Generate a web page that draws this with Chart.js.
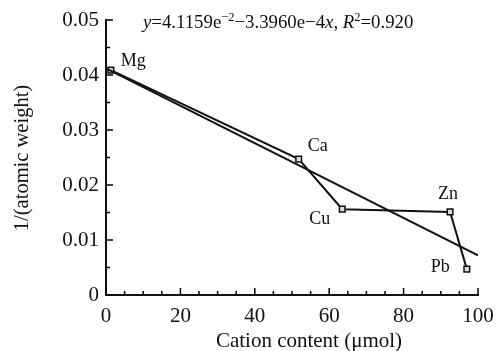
<!DOCTYPE html>
<html>
<head>
<meta charset="utf-8">
<script src="https://cdn.jsdelivr.net/npm/chart.js@4.4.1/dist/chart.umd.min.js"></script>
<style>
  html, body { margin: 0; padding: 0; background: #fff; }
  #wrap { width: 497px; height: 351px; position: relative; }
</style>
</head>
<body>
<div id="wrap"><canvas id="chart"></canvas></div>
<script>
// values
const metals = ['Mg', 'Ca', 'Cu', 'Zn', 'Pb'];
const cationContent = [1.3, 51.8, 63.5, 92.5, 97.0];
const invAtomicWeight = [0.0409, 0.0247, 0.0156, 0.0151, 0.0047];

// regression line end points, y = 4.1159e-2 - 3.3960e-4 x
const fitX = [0, 100];
const fitY = [0.0412, 0.0072];

const xTicks = [0, 20, 40, 60, 80, 100];
const yTicks = [0, 0.01, 0.02, 0.03, 0.04, 0.05];

const xTitle = 'Cation content (\u03bcmol)';
const yTitle = '1/(atomic weight)';

const SERIF = '"Liberation Serif", "Times New Roman", serif';

// label offsets (px) from each point
const labelOffsets = {
  Mg: [10, -9, 'left'],
  Ca: [9, -13, 'left'],
  Cu: [-12, 10, 'right'],
  Zn: [-12, -18, 'left'],
  Pb: [-17, -2, 'right'],
};

// axis ticks drawn inward, like the original figure
const inwardTicks = {
  id: 'inwardTicks',
  afterDraw(chart) {
    const { ctx, chartArea, scales } = chart;
    ctx.save();
    ctx.strokeStyle = '#000';
    ctx.lineWidth = 1.5;
    for (let v = 0; v <= 100; v += 5) {
      const px = scales.x.getPixelForValue(v);
      const len = v % 20 === 0 ? 7 : 4;
      ctx.beginPath();
      ctx.moveTo(px, chartArea.bottom);
      ctx.lineTo(px, chartArea.bottom - len);
      ctx.stroke();
    }
    for (let i = 0; i <= 10; i++) {
      const v = i * 0.005;
      const py = scales.y.getPixelForValue(v);
      const len = i % 2 === 0 ? 7 : 4;
      ctx.beginPath();
      ctx.moveTo(chartArea.left, py);
      ctx.lineTo(chartArea.left + len, py);
      ctx.stroke();
    }
    ctx.restore();
  }
};

const axisTitles = {
  id: 'axisTitles',
  afterDraw(chart) {
    const { ctx } = chart;
    ctx.save();
    ctx.fillStyle = '#111';
    ctx.font = '21px ' + SERIF;
    ctx.textAlign = 'center';
    ctx.textBaseline = 'alphabetic';
    ctx.fillText(xTitle, 309, 347);
    ctx.translate(23, 158);
    ctx.rotate(-Math.PI / 2);
    ctx.textBaseline = 'middle';
    ctx.font = '20.5px ' + SERIF;
    ctx.fillText(yTitle, 0, 0);
    ctx.restore();
  }
};

const pointLabels = {
  id: 'pointLabels',
  afterDatasetsDraw(chart) {
    const { ctx, scales } = chart;
    ctx.save();
    ctx.fillStyle = '#111';
    ctx.font = '18px ' + SERIF;
    ctx.textBaseline = 'middle';
    metals.forEach((m, i) => {
      const px = scales.x.getPixelForValue(cationContent[i]);
      const py = scales.y.getPixelForValue(invAtomicWeight[i]);
      const [dx, dy, align] = labelOffsets[m];
      ctx.textAlign = align;
      ctx.fillText(m, px + dx, py + dy);
    });
    ctx.restore();
  }
};

// equation with italics and superscripts
const equation = {
  id: 'equation',
  afterDraw(chart) {
    const { ctx } = chart;
    const parts = [
      ['y', 'italic', false], ['=4.1159e', '', false], ['\u22122', '', true],
      ['\u22123.3960e\u22124', '', false], ['x', 'italic', false], [', ', '', false],
      ['R', 'italic', false], ['2', '', true], ['=0.920', '', false],
    ];
    ctx.save();
    ctx.fillStyle = '#111';
    ctx.textBaseline = 'alphabetic';
    ctx.textAlign = 'left';
    let x = 143;
    const base = 28;
    parts.forEach(([t, style, sup]) => {
      const size = sup ? 12.5 : 18.8;
      ctx.font = (style ? style + ' ' : '') + size + 'px ' + SERIF;
      ctx.fillText(t, x, sup ? base - 7.5 : base);
      x += ctx.measureText(t).width;
    });
    ctx.restore();
  }
};

new Chart(document.getElementById('chart'), {
  type: 'scatter',
  data: {
    datasets: [
      {
        label: 'fit',
        data: fitX.map((x, i) => ({ x, y: fitY[i] })),
        showLine: true,
        borderColor: '#111',
        borderWidth: 2,
        pointRadius: 0,
      },
      {
        label: 'metals',
        data: cationContent.map((x, i) => ({ x, y: invAtomicWeight[i] })),
        showLine: true,
        borderColor: '#111',
        borderWidth: 2,
        pointStyle: 'rect',
        pointRadius: 4,
        pointBorderWidth: 1.5,
        pointBorderColor: '#111',
        pointBackgroundColor: '#ddd',
        clip: false,
      },
      {
        label: 'centers',
        data: cationContent.map((x, i) => ({ x, y: invAtomicWeight[i] })),
        pointStyle: 'rect',
        pointRadius: 1,
        pointBorderWidth: 0,
        pointBackgroundColor: '#333',
        clip: false,
      }
    ]
  },
  options: {
    responsive: true,
    maintainAspectRatio: false,
    animation: false,
    layout: { padding: { top: 20, right: 19, left: 0, bottom: 0 } },
    plugins: {
      legend: { display: false },
      tooltip: { enabled: false },
    },
    scales: {
      x: {
        type: 'linear',
        min: 0,
        max: 100,
        afterBuildTicks: s => { s.ticks = xTicks.map(value => ({ value })); },
        afterFit: s => { s.height = 56; s.paddingLeft = 0; s.paddingRight = 0; },
        grid: { display: false, drawTicks: false, tickLength: 0 },
        border: { display: true, color: '#111', width: 2 },
        ticks: {
          color: '#111',
          font: { family: SERIF, size: 21 },
          padding: 9,
          maxRotation: 0,
        },
        title: { display: false },
      },
      y: {
        type: 'linear',
        min: 0,
        max: 0.05,
        afterBuildTicks: s => { s.ticks = yTicks.map(value => ({ value })); },
        afterFit: s => { s.width = 106; s.paddingTop = 0; s.paddingBottom = 0; },
        grid: { display: false, drawTicks: false, tickLength: 0 },
        border: { display: true, color: '#111', width: 2 },
        ticks: {
          color: '#111',
          font: { family: SERIF, size: 21 },
          padding: 7,
          callback: v => v === 0 ? '0' : v.toFixed(2),
        },
        title: { display: false },
      },
    },
  },
  plugins: [inwardTicks, pointLabels, equation, axisTitles],
});
</script>
</body>
</html>
